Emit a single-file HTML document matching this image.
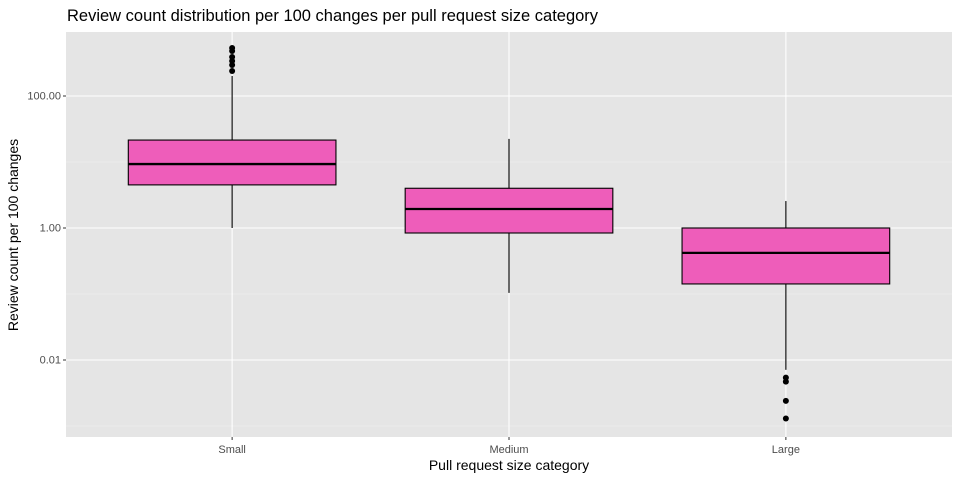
<!DOCTYPE html>
<html><head><meta charset="utf-8"><style>
body{margin:0;background:#fff;font-family:"Liberation Sans",sans-serif}
</style></head><body>
<svg id="c" width="960" height="480" xmlns="http://www.w3.org/2000/svg"></svg>
<script>
const categories=["Small","Medium","Large"];
const q1=[4.5,0.84,0.142];
const medians=[9.3,1.94,0.42];
const q3=[21.5,4.0,1.0];
const whiskerLow=[1.0,0.104,0.0071];
const whiskerHigh=[201,22.4,2.56];
const outliers=[[533,481,390,339,295,239],[],[0.0054,0.0047,0.0024,0.0013]];
const yTicks=[100,1,0.01];
const yTickLabels=["100.00","1.00","0.01"];
const minorTicks=[1000,10,0.1,0.001];

const NS="http://www.w3.org/2000/svg";
const svg=document.getElementById('c');
const L=66,R=952,T=32,B=437;
function y(v){return 228-Math.log10(v)*66;}
// ggplot discrete scale: expand 0.6 units on each side
const unit=(R-L)/(categories.length-1+1.2);
function x(i){return L+unit*(i+0.6);}
function el(t,a,p){const e=document.createElementNS(NS,t);for(const k in a)e.setAttribute(k,a[k]);(p||svg).appendChild(e);return e;}
let e;
e=el('rect',{x:L,y:T,width:R-L,height:B-T,fill:'#e5e5e5'});


minorTicks.forEach(v=>{const yy=y(v);if(yy<T||yy>B)return;e=el('line',{x1:L,x2:R,y1:yy,y2:yy,stroke:'#f2f2f2','stroke-width':0.6});

});
yTicks.forEach((v,i)=>{const yy=y(v);e=el('line',{x1:L,x2:R,y1:yy,y2:yy,stroke:'#fff','stroke-width':1.1});


el('line',{x1:L-3,x2:L,y1:yy,y2:yy,stroke:'#333'});
const t=el('text',{x:L-5,y:yy+3.5,'text-anchor':'end','font-size':11,fill:'#4d4d4d'});t.textContent=yTickLabels[i];

});
categories.forEach((c,i)=>{const xx=x(i);e=el('line',{x1:xx,x2:xx,y1:T,y2:B,stroke:'#fff','stroke-width':1.1});


el('line',{x1:xx,x2:xx,y1:B,y2:B+3,stroke:'#333'});
const t=el('text',{x:xx,y:453,'text-anchor':'middle','font-size':11,fill:'#4d4d4d'});t.textContent=c;

});
const hw=unit*0.75/2;
categories.forEach((c,i)=>{const xx=x(i);
const g=el('g',{});


el('line',{x1:xx,x2:xx,y1:y(whiskerHigh[i]),y2:y(q3[i]),stroke:'#000','stroke-width':1.1},g);
el('line',{x1:xx,x2:xx,y1:y(q1[i]),y2:y(whiskerLow[i]),stroke:'#000','stroke-width':1.1},g);
el('rect',{x:xx-hw,y:y(q3[i]),width:hw*2,height:y(q1[i])-y(q3[i]),fill:'#ee5dba',stroke:'#000','stroke-width':1.1},g);
el('line',{x1:xx-hw,x2:xx+hw,y1:y(medians[i]),y2:y(medians[i]),stroke:'#000','stroke-width':2.3},g);
outliers[i].forEach(v=>{const p=el('circle',{cx:xx,cy:y(v),r:3,fill:'#000'},g);

});
});
let t=el('text',{x:67,y:21,'font-size':16.5,fill:'#000'});t.textContent='Review count distribution per 100 changes per pull request size category';


t=el('text',{x:509,y:470,'text-anchor':'middle','font-size':14,fill:'#000'});t.textContent='Pull request size category';


t=el('text',{x:0,y:0,'text-anchor':'middle','font-size':14,fill:'#000',transform:'translate(18,235) rotate(-90)'});t.textContent='Review count per 100 changes';


</script>
</body></html>
